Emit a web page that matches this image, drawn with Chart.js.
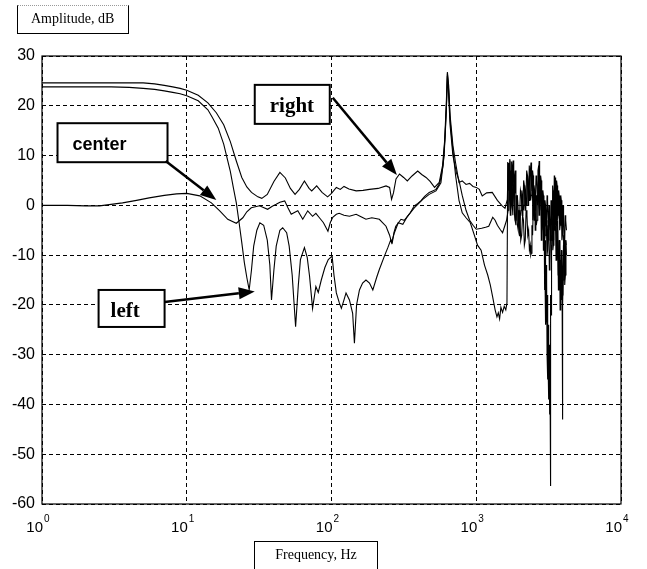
<!DOCTYPE html>
<html lang="en">
<head>
    <meta charset="utf-8" />
    <title>Amplitude, dB vs Frequency, Hz</title>
    <script src="https://cdn.jsdelivr.net/npm/chart.js"></script>
    <style>
        body { margin: 0; background: #fff; }
        #wrap { position: relative; width: 647px; height: 569px; overflow: hidden; }
        .axisBox {
            position: absolute;
            box-sizing: border-box;
            font-family: "Liberation Serif", "Times New Roman", serif;
            font-size: 14px;
            color: #000;
        }
        #ampBox {
            left: 17px; top: 5px; width: 112px; height: 29px;
            border-left: 1.5px solid #000; border-right: 1.5px solid #000;
            border-bottom: 1.5px solid #000; border-top: 1px dotted #999;
            padding: 5px 0 0 13px;
        }
        #freqBox {
            left: 254px; top: 541px; width: 124px; height: 40px;
            border: 1.5px solid #000;
            text-align: center; padding-top: 5px;
        }
    </style>
</head>
<body>
<div id="wrap">
    <canvas id="grafico" width="647" height="569"></canvas>
    <div class="axisBox" id="ampBox">Amplitude, dB</div>
    <div class="axisBox" id="freqBox">Frequency, Hz</div>
</div>

<script>
    // --- datos: [frecuencia Hz, amplitud dB] ---
    const xTicks = [1, 10, 100, 1000, 10000];

    const rightCurve = [
        [1, 24.6], [2, 24.6], [3, 24.6], [4, 24.6], [5, 24.6], [6, 24.4], [7, 24.1], [8, 23.8],
        [9, 23.5], [10, 23.1], [12, 22.1], [14, 20.6], [16, 18.6], [18, 16.2], [20, 12.8],
        [22, 8.9], [24, 5.6], [26, 3.7], [28, 2.6], [31, 1.7], [33, 1.4], [36, 2.2], [40, 4.8],
        [44, 6.6], [48, 5.5], [52, 3.4], [56, 2.2], [60, 3.2], [65, 4.9], [70, 3.4], [73, 2.9],
        [79, 3.9], [86, 2.6], [94, 1.7], [100, 2.4], [108, 3.6], [115, 3.2], [122, 3.8],
        [132, 3.3], [148, 2.9], [165, 3.0], [183, 3.2], [210, 3.4], [238, 3.9], [252, 3.6],
        [260, 1.2], [268, 2.5], [279, 5.3], [295, 6.3], [315, 5.6], [334, 4.9], [360, 5.9],
        [394, 6.9], [420, 6.2], [450, 5.6], [480, 4.8], [515, 3.6], [555, 4.6], [585, 8],
        [605, 13], [620, 20], [632, 26.8], [645, 24], [660, 18], [690, 12], [720, 8.5],
        [760, 4.6], [800, 4.9], [850, 4.2], [900, 4.4], [950, 3.8], [1000, 3.6], [1050, 3.2],
        [1100, 1.9], [1180, 2.5], [1290, 2.6], [1400, 1.0], [1510, -0.1], [1580, -0.6],
        [1640, 1.2], [1660, 8.5], [1675, 3], [1690, 7], [1700, 2.5], [1710, 9.3], [1720, 4],
        [1730, 1.5], [1740, 7], [1750, 8.8], [1760, 3], [1770, 4], [1785, 8], [1800, 9.0],
        [1815, 5], [1830, 2.5], [1845, 6], [1860, 7], [1880, 2], [1900, 0], [1925, 2], [1950, -3],
        [1970, -1], [1990, -6.2], [2015, -2], [2040, -1], [2065, 3], [2090, 2], [2115, -1],
        [2140, 0], [2165, 4], [2190, 3], [2215, 0], [2240, 1], [2265, 6], [2290, 5], [2315, 1],
        [2340, 2], [2365, 7], [2390, 8.6], [2410, 4], [2430, 3], [2450, 7], [2470, 6], [2490, 0],
        [2510, -3], [2535, 2], [2560, 1], [2590, 6], [2620, 5], [2650, 0], [2680, 2], [2700, 7],
        [2720, 8.9], [2740, 3], [2760, 1], [2785, 6], [2810, 5], [2835, 0], [2860, -1], [2885, 3],
        [2910, 2], [2935, -2], [2960, -4.2], [2985, 1], [3010, 0], [3035, -4], [3060, -3],
        [3085, 2], [3110, 1], [3135, -3], [3160, -5], [3185, 0], [3210, -2], [3235, -7],
        [3260, -6], [3285, 1], [3310, 0], [3335, -4], [3360, -3], [3385, 2], [3410, 3],
        [3435, -2], [3460, -1], [3485, 4], [3510, 5.6], [3535, 0], [3560, 1], [3590, 5],
        [3620, 4], [3650, -3], [3680, -2], [3710, 3], [3740, 2], [3770, -5], [3800, -4],
        [3835, 2], [3870, 1], [3905, -7], [3940, -6], [3975, 0], [4010, -2], [4045, -9],
        [4080, -8], [4115, -2], [4150, -3], [4200, -5]
    ];

    const centerCurve = [
        [1, 0], [1.5, 0], [2, -0.1], [2.5, -0.1], [3, 0.2], [3.6, 0.5], [4.5, 1.0], [5.5, 1.5],
        [7, 2.0], [8.5, 2.3], [10, 2.4], [12.3, 1.9], [14.8, 0.5], [16.9, -1.1], [19.2, -2.8],
        [22, -3.6], [24.4, -2.5], [26, -1.3], [27.9, -0.5], [31.8, -0.1], [36.2, -0.8],
        [39, -0.2], [41.5, 0.2], [44, 0.6], [47.5, 0.9], [50, -0.5], [52.7, -1.8], [55, -1.5],
        [58.5, -1.1], [63.3, -2.8], [68.5, -1.1], [74, -2.2], [78, -1.6], [82, -2.4], [88, -3.5],
        [94.5, -5.2], [98, -3.5], [102, -2.4], [108, -1.8], [113, -1.6], [122, -2.0], [133, -2.2],
        [148, -1.8], [160, -2.3], [173, -2.8], [190, -2.5], [214, -2.8], [238, -4.2], [252, -6],
        [260, -7.5], [272, -5.5], [289, -3.5], [311, -3.8], [335, -2.2], [373, -0.5], [427, 1.2],
        [473, 2.2], [527, 2.9], [570, 4.5], [600, 10], [620, 19], [632, 26], [645, 22], [660, 16],
        [690, 10], [730, 6.5], [760, 5], [800, 2], [850, -1], [900, -3], [950, -4], [1000, -4.8],
        [1090, -4.6], [1160, -4.4], [1220, -4.2], [1300, -2.4], [1350, -3], [1400, -4],
        [1460, -4.8], [1520, -5.5], [1580, -4], [1620, -3], [1660, -1], [1675, 3], [1690, 6],
        [1705, 1], [1720, -2], [1735, 2], [1750, 5], [1765, 0], [1780, -1], [1800, 4], [1820, 3],
        [1840, -2], [1860, -3], [1880, 2], [1900, 1], [1925, -4], [1950, -5], [1975, -1],
        [2000, -2], [2030, -7], [2060, -6], [2090, -2], [2120, -3], [2150, -8], [2180, -7],
        [2210, -1], [2240, -2], [2270, -6], [2300, -5], [2330, -9], [2360, -8], [2380, -10],
        [2400, -9.6], [2425, -4], [2450, -6], [2480, 0], [2510, -1], [2540, 3], [2570, 2],
        [2600, -4], [2630, -3], [2660, 4], [2690, 5], [2720, -2], [2750, -1], [2780, 4], [2810, 3],
        [2840, -5], [2870, -4], [2900, 0], [2930, -1], [2960, -7], [2990, -6], [3020, -2],
        [3050, -3], [3080, -10], [3110, -9], [3140, -4], [3170, -5], [3200, -13], [3230, -12],
        [3260, -6], [3290, -7], [3320, -2], [3350, -3], [3380, -9], [3410, -8], [3440, 1],
        [3470, 0], [3500, -5], [3530, -4], [3560, -11], [3590, -10], [3620, -5], [3650, -6],
        [3680, -14], [3710, -13], [3745, -7], [3780, -8], [3815, -16], [3850, -15], [3880, -9],
        [3910, -10], [3940, -18], [3970, -17], [4005, -8], [4040, -9], [4075, -15], [4110, -14],
        [4145, -7], [4180, -8]
    ];

    const leftCurve = [
        [1, 23.8], [2, 23.8], [3, 23.8], [4, 23.7], [5, 23.5], [6, 23.3], [7, 23.0], [8, 22.7],
        [9, 22.4], [10, 22.0], [12, 21.0], [14, 19.2], [15, 17.7], [16.5, 15.5], [18, 12.3],
        [19, 9.5], [20, 6.8], [21, 3.5], [22, 0.5], [23, -3.5], [24, -7.5], [25, -11.5],
        [26, -14.5], [27, -17], [28, -13], [29, -8.2], [30.5, -5], [32, -3.5], [34, -4.0],
        [36, -7], [37.5, -12], [38.5, -19], [40, -13], [41.5, -8.2], [44, -5], [46, -4.5],
        [49, -5.5], [51, -8.2], [53.5, -14], [56.5, -24.4], [59, -16], [61, -10.9], [65, -8.5],
        [68, -10.5], [70.5, -14.2], [74, -20.7], [78, -16.3], [81, -17.5], [85, -15], [90, -12.5],
        [95, -10.9], [101, -10.2], [104, -14], [108, -17.6], [113, -19.5], [117, -20.7],
        [122, -19], [126, -17.6], [133, -19], [140, -21.7], [144, -27.7], [149, -20], [156, -17],
        [164, -15.6], [173, -15], [183, -15.6], [193, -17], [205, -14.5], [214, -12.9],
        [232, -10.2], [245, -8.5], [257, -6.9], [263, -7.5], [270, -5.5], [278, -4.2], [290, -3.5],
        [302, -2.8], [318, -3.0], [335, -2.2], [350, -1.5], [373, -0.1], [395, 0.4], [414, 0.9],
        [440, 1.8], [473, 2.6], [500, 2.9], [527, 3.2], [560, 4.5], [590, 8], [610, 14], [625, 21],
        [632, 26.5], [645, 23], [660, 17], [690, 11], [720, 6], [760, 1], [800, -1.5], [850, -2.5],
        [910, -3.5], [970, -6], [1020, -8], [1080, -9], [1140, -12], [1200, -14], [1250, -16],
        [1300, -18.5], [1350, -21], [1390, -22.4], [1420, -21.6], [1450, -22.8], [1480, -20.5],
        [1520, -21.5], [1560, -20.3], [1600, -21], [1630, -19.6], [1650, 8.7], [1665, 4],
        [1680, 3], [1695, 8], [1710, 9], [1720, 2], [1730, 0], [1745, 6], [1760, 7], [1775, 0],
        [1790, -2], [1810, 4], [1830, 5], [1855, -3], [1880, -4], [1905, 2], [1930, 1], [1960, -4],
        [1990, -3], [2020, 3], [2050, 2], [2075, -2], [2100, -1], [2125, 5], [2150, 4], [2175, -1],
        [2200, 0], [2230, 7], [2260, 6], [2280, 0], [2300, 1], [2325, 8], [2350, 8], [2375, 1],
        [2400, 2], [2420, 7], [2440, 6], [2460, -3], [2480, -2], [2505, 4], [2530, 3], [2555, -5],
        [2580, -4], [2610, 2], [2640, 1], [2670, 7], [2700, 8], [2720, 0], [2740, -1], [2765, 5],
        [2790, 4], [2815, -7], [2840, -6], [2865, 1], [2890, 0], [2910, -9], [2930, -8],
        [2945, -2], [2960, -4], [2975, -17], [2990, -16], [3000, -7], [3010, -10], [3025, -24],
        [3040, -22], [3055, -12], [3070, -15], [3085, -30], [3100, -28], [3110, -18], [3120, -20],
        [3130, -35], [3140, -33], [3150, -24], [3160, -26], [3170, -39], [3180, -38], [3190, -28],
        [3200, -30], [3210, -42], [3220, -41], [3228, -33], [3235, -36], [3245, -56.4],
        [3255, -40], [3262, -28], [3270, -30], [3280, -18], [3290, -22], [3305, -8], [3320, -10],
        [3340, 0], [3360, -2], [3380, 4], [3400, 2], [3420, -7], [3440, -6], [3460, 6], [3480, 5],
        [3505, -4], [3530, -3], [3555, 3], [3580, 2], [3600, -11], [3620, -10], [3645, -3],
        [3670, -4], [3695, -17], [3720, -16], [3745, -7], [3770, -8], [3795, -21], [3820, -20],
        [3845, -11], [3870, -12], [3895, -19], [3920, -18], [3935, -30], [3950, -43], [3965, -20],
        [3980, -15], [4015, -6], [4050, -8], [4085, -16], [4120, -14], [4160, -7], [4200, -10]
    ];

    // cajas de texto con flecha, en coordenadas de datos (Hz, dB)
    const notas = [
        { texto: 'right', fuente: 'bold 21px "Liberation Serif", serif', caja: [29.5, 24.2], w: 75, h: 39, pad: 15, desde: [102, 21.6], hasta: [283, 6.1] },
        { texto: 'center', fuente: 'bold 18px "Liberation Sans", Arial, sans-serif', caja: [1.28, 16.5], w: 110, h: 39, pad: 15, desde: [7.15, 8.9], hasta: [16.0, 1.07] },
        { texto: 'left', fuente: 'bold 21px "Liberation Serif", serif', caja: [2.46, -17.0], w: 66, h: 37, pad: 12, desde: [7.03, -19.4], hasta: [29.5, -17.3] }
    ];

    function aPuntos(curva) {
        return curva.map(p => ({ x: p[0], y: p[1] }));
    }

    function flecha(ctx, x1, y1, x2, y2) {
        const ang = Math.atan2(y2 - y1, x2 - x1);
        const largo = 16, ancho = 6;
        const bx = x2 - largo * Math.cos(ang), by = y2 - largo * Math.sin(ang);
        ctx.beginPath();
        ctx.moveTo(x1, y1);
        ctx.lineTo(bx, by);
        ctx.stroke();
        ctx.beginPath();
        ctx.moveTo(x2, y2);
        ctx.lineTo(bx + ancho * Math.sin(ang), by - ancho * Math.cos(ang));
        ctx.lineTo(bx - ancho * Math.sin(ang), by + ancho * Math.cos(ang));
        ctx.closePath();
        ctx.fill();
    }

    const marcoPlugin = {
        id: 'marco',
        afterDatasetsDraw(chart) {
            const { ctx, chartArea: a, scales } = chart;
            ctx.save();
            ctx.strokeStyle = '#000';
            ctx.lineWidth = 1.2;
            ctx.setLineDash([]);
            ctx.strokeRect(a.left, a.top, a.right - a.left, a.bottom - a.top);

            // etiquetas 10^n del eje x
            ctx.fillStyle = '#000';
            xTicks.forEach(v => {
                const px = scales.x.getPixelForValue(v);
                ctx.font = '15px "Liberation Sans", Arial, sans-serif';
                ctx.textAlign = 'right';
                ctx.textBaseline = 'alphabetic';
                ctx.fillText('10', px + 1, a.bottom + 28);
                ctx.font = '10px "Liberation Sans", Arial, sans-serif';
                ctx.textAlign = 'left';
                ctx.fillText(String(Math.round(Math.log10(v))), px + 2, a.bottom + 18);
            });
            ctx.restore();
        },
        afterDraw(chart) {
            const { ctx, scales } = chart;
            ctx.save();
            ctx.strokeStyle = '#000';
            ctx.fillStyle = '#000';
            notas.forEach(n => {
                const bx = scales.x.getPixelForValue(n.caja[0]);
                const by = scales.y.getPixelForValue(n.caja[1]);
                ctx.fillStyle = '#fff';
                ctx.fillRect(bx, by, n.w, n.h);
                ctx.lineWidth = 2;
                ctx.strokeRect(bx, by, n.w, n.h);
                ctx.fillStyle = '#000';
                ctx.font = n.fuente;
                ctx.textAlign = 'left';
                ctx.textBaseline = 'alphabetic';
                ctx.fillText(n.texto, bx + n.pad, by + 27);
                ctx.lineWidth = 2.5;
                flecha(ctx,
                    scales.x.getPixelForValue(n.desde[0]), scales.y.getPixelForValue(n.desde[1]),
                    scales.x.getPixelForValue(n.hasta[0]), scales.y.getPixelForValue(n.hasta[1]));
            });
            ctx.restore();
        }
    };

    const estiloLinea = { borderColor: '#000', borderWidth: 1.1, pointRadius: 0, tension: 0, fill: false };

    new Chart(document.getElementById('grafico'), {
        type: 'line',
        data: {
            datasets: [
                Object.assign({ label: 'right', data: aPuntos(rightCurve) }, estiloLinea),
                Object.assign({ label: 'center', data: aPuntos(centerCurve) }, estiloLinea),
                Object.assign({ label: 'left', data: aPuntos(leftCurve) }, estiloLinea)
            ]
        },
        options: {
            responsive: false,
            animation: false,
            devicePixelRatio: 1,
            layout: { padding: { top: 56, right: 26, left: 0, bottom: 0 } },
            plugins: { legend: { display: false }, tooltip: { enabled: false } },
            scales: {
                x: {
                    type: 'logarithmic',
                    min: 1,
                    max: 10000,
                    afterBuildTicks: s => { s.ticks = xTicks.map(v => ({ value: v })); },
                    ticks: { display: false },
                    grid: { color: '#000', lineWidth: 1, drawTicks: false },
                    border: { display: false, dash: [4, 3] },
                    afterFit: s => { s.height = 65; }
                },
                y: {
                    min: -60,
                    max: 30,
                    ticks: {
                        stepSize: 10,
                        color: '#000',
                        padding: 7,
                        font: { family: '"Liberation Sans", Arial, sans-serif', size: 16 }
                    },
                    grid: { color: '#000', lineWidth: 1, drawTicks: false },
                    border: { display: false, dash: [4, 3] },
                    afterFit: s => { s.width = 42; }
                }
            }
        },
        plugins: [marcoPlugin]
    });
</script>
</body>
</html>
